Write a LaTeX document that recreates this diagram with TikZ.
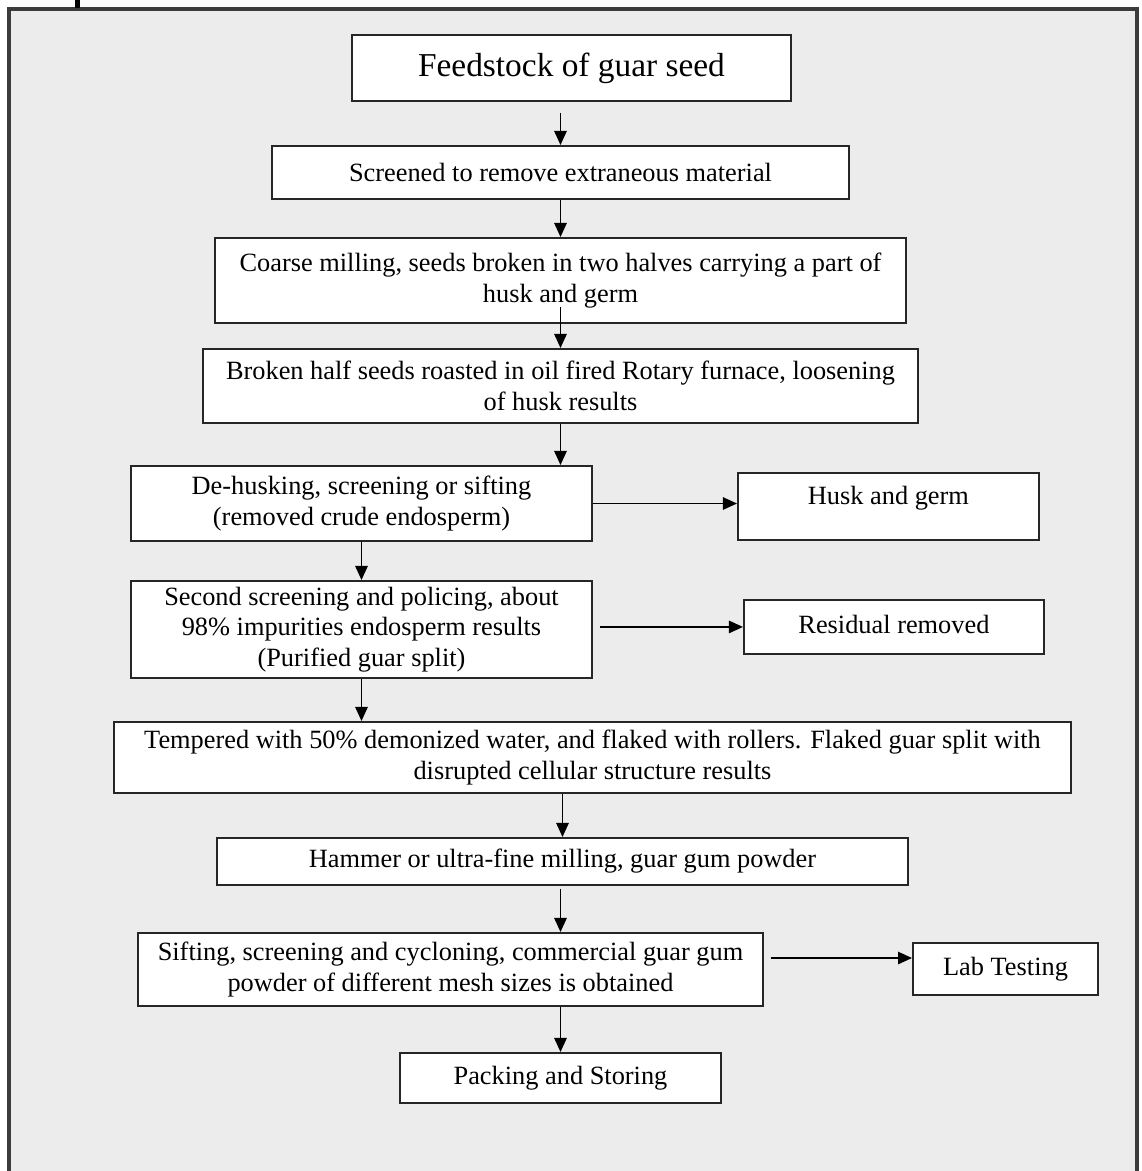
\documentclass[tikz,border=0pt]{standalone}
\usepackage{fontspec}
\setmainfont{Liberation Serif}
\usepackage{tikz}
\usetikzlibrary{positioning,arrows.meta,calc}
\definecolor{panelgray}{HTML}{ECECEC}
\definecolor{framegray}{HTML}{3C3C3C}

\begin{document}
\begin{tikzpicture}[x=0.02cm, y=-0.02cm,
        box/.style={draw=black!85, fill=white, line width=1.1pt, align=center, inner sep=1pt,
            font=\fontsize{15pt}{17.5pt}\selectfont},
        arr/.style={-{Triangle[length=8pt,width=7pt]}, line width=1.05pt}]
            \useasboundingbox (0,0) rectangle (1142,1171);
            \fill[white] (0,0) rectangle (1142,1171);
            \fill[panelgray] (9,9) rectangle (1137,1185);
            \draw[framegray, line width=0.07cm] (9,1185) -- (9,9) -- (1137,9) -- (1137,1185);
            \draw[black, line width=0.09cm] (77.5,0) -- (77.5,8);

            \node[box, minimum width=8.78cm, minimum height=1.32cm, font=\fontsize{19pt}{22pt}\selectfont] (feed) at (571.5,68) {Feedstock of guar seed};
            \node[box, minimum width=11.54cm, minimum height=1.06cm] (scr) at (560.5,172.5) {Screened to remove extraneous material};
            \node[box, minimum width=13.82cm, minimum height=1.70cm] (coarse) at (560.5,280.5) {Coarse milling, seeds broken in two halves carrying a part of\\husk and germ};
            \node[box, minimum width=14.30cm, minimum height=1.48cm] (broken) at (560.5,386) {Broken half seeds roasted in oil fired Rotary furnace, loosening\\of husk results};
            \node[box, minimum width=9.22cm, minimum height=1.50cm] (dehusk) at (361.5,503.5) {De-husking, screening or sifting\\(removed crude endosperm)};
            \node[box, minimum width=6.02cm, text height=18.2pt, text depth=19.9pt, inner ysep=0pt, anchor=north west] (husk) at (737,472) {Husk and germ};
            \node[box, minimum width=9.22cm, minimum height=1.94cm] (second) at (361.5,629.5) {Second screening and policing, about\\98\% impurities endosperm results\\(Purified guar split)};
            \node[box, minimum width=6.00cm, text height=19.3pt, text depth=11.4pt, inner ysep=0pt, anchor=north west] (resid) at (743,599) {Residual removed};
            \node[box, minimum width=19.14cm, minimum height=1.42cm] (temper) at (592.5,757.5) {Tempered with 50\% demonized water, and flaked with rollers. Flaked guar split with\\disrupted cellular structure results};
            \node[box, minimum width=13.82cm, minimum height=0.94cm] (hammer) at (562.5,861.5) {Hammer or ultra-fine milling, guar gum powder};
            \node[box, minimum width=12.50cm, minimum height=1.46cm] (sift) at (450.5,969.5) {Sifting, screening and cycloning, commercial guar gum\\powder of different mesh sizes is obtained};
            \node[box, minimum width=3.70cm, minimum height=1.04cm] (lab) at (1005.5,969) {Lab Testing};
            \node[box, minimum width=6.42cm, minimum height=1.00cm] (pack) at (560.5,1078) {Packing and Storing};

            \draw[arr, shorten <=0.22cm] (feed.south -| scr.north) -- (scr.north);
            \draw[arr] (scr) -- (coarse);
            \draw[arr, shorten <=-0.34cm] (coarse) -- (broken);
            \draw[arr] (broken.south) -- (broken.south |- dehusk.north);
            \draw[arr] (dehusk) -- (second);
            \draw[arr] (second.south) -- (second.south |- temper.north);
            \draw[arr] (temper.south -| hammer.north) -- (hammer.north);
            \draw[arr, shorten <=0.06cm] (hammer.south -| scr.north) -- (sift.north -| scr.north);
            \draw[arr] (sift.south -| pack.north) -- (pack.north);
            \draw[arr] (dehusk.east) -- (dehusk.east -| husk.west);
            \draw[arr, shorten <=0.14cm] (resid.west -| second.east) -- (resid.west);
            \draw[arr, shorten <=0.14cm] ([yshift=0.22cm]lab.west -| sift.east) -- ([yshift=0.22cm]lab.west);
        \end{tikzpicture}
\end{document}
